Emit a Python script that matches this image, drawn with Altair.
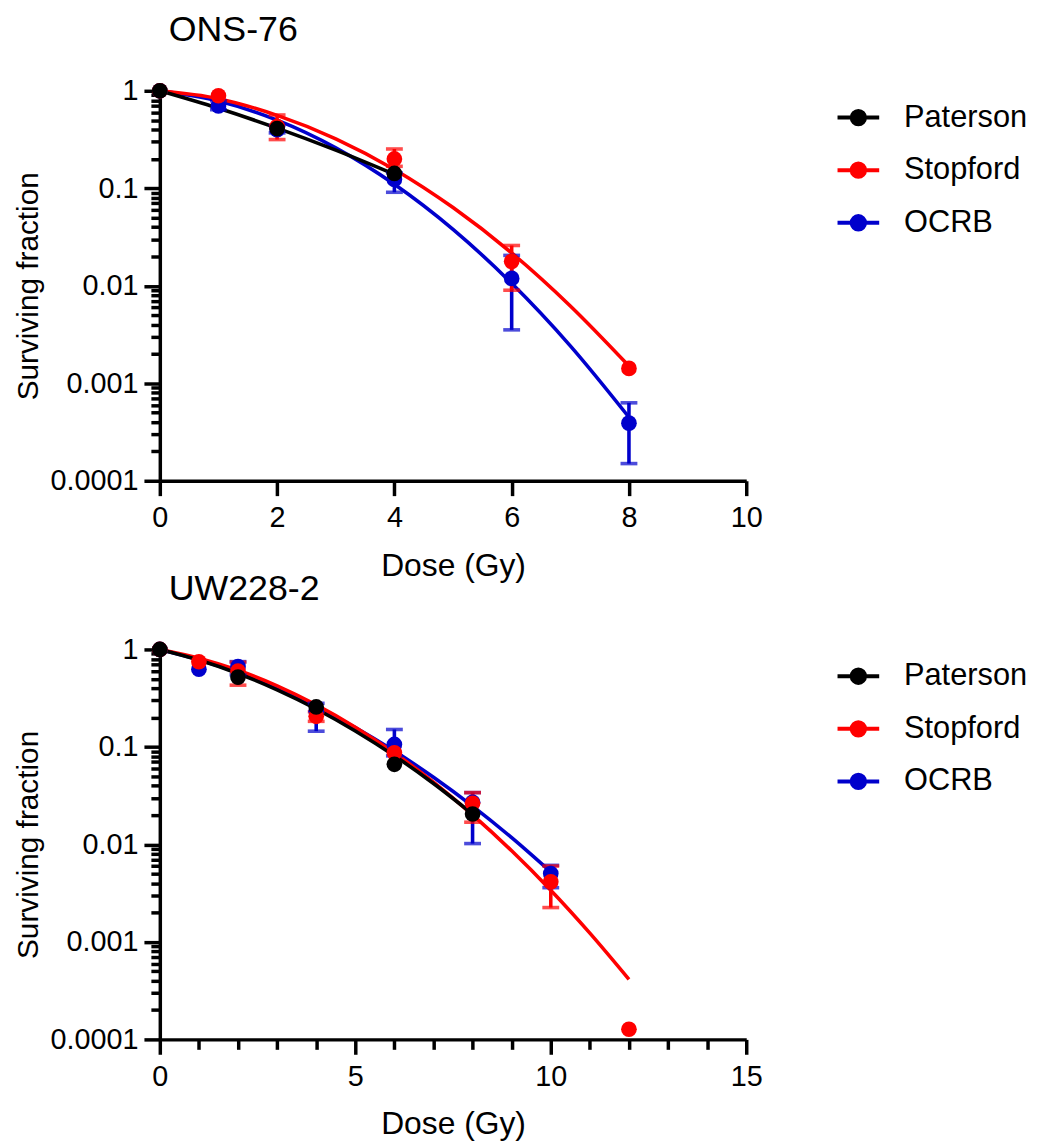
import altair as alt
import pandas as pd

SERIES = ["Paterson", "Stopford", "OCRB"]
COLORS = ["#000000", "#FF0000", "#0000CC"]
DRAW_RANK = {"OCRB": 0, "Stopford": 1, "Paterson": 2}

# ---------------- ONS-76: measured points ----------------
ons_pat_dose = [0, 2, 4]
ons_pat_sf = [1.0, 0.41, 0.142]
ons_pat_lo = [None, None, None]
ons_pat_hi = [None, None, None]

ons_sto_dose = [0, 1, 2, 4, 6, 8]
ons_sto_sf = [1.0, 0.89, 0.43, 0.20, 0.0178, 0.00142]
ons_sto_lo = [None, None, 0.316, 0.168, 0.009, None]
ons_sto_hi = [None, None, 0.565, 0.253, 0.0259, None]

ons_ocrb_dose = [0, 1, 2, 4, 6, 8]
ons_ocrb_sf = [1.0, 0.70, 0.40, 0.123, 0.0119, 0.00039]
ons_ocrb_lo = [None, 0.64, 0.37, 0.091, 0.00353, 0.00015]
ons_ocrb_hi = [None, 0.79, 0.44, 0.144, 0.0205, 0.00063]

# ONS-76: fitted curves
ons_fit_pat_dose = [0, 1, 2, 3, 4]
ons_fit_pat_sf = [1.0, 0.661, 0.414, 0.246, 0.139]
ons_fit_sto_dose = [0, 1, 2, 3, 4, 5, 6, 7, 8]
ons_fit_sto_sf = [1.0, 0.83, 0.56, 0.322, 0.156, 0.0634, 0.0217, 0.0062, 0.0015]
ons_fit_ocrb_dose = [0, 1, 2, 3, 4, 5, 6, 7, 8]
ons_fit_ocrb_sf = [1.0, 0.784, 0.50, 0.26, 0.11, 0.0379, 0.0106, 0.00242, 0.000448]

# ---------------- UW228-2: measured points ----------------
uw_pat_dose = [0, 2, 4, 6, 8]
uw_pat_sf = [1.0, 0.52, 0.257, 0.0663, 0.0205]
uw_pat_lo = [None, None, None, None, None]
uw_pat_hi = [None, None, None, None, None]

uw_sto_dose = [0, 1, 2, 4, 6, 8, 10, 12]
uw_sto_sf = [1.0, 0.748, 0.60, 0.206, 0.0872, 0.0264, 0.00413, 0.000127]
uw_sto_lo = [None, None, 0.43, 0.183, None, 0.0169, 0.00225, None]
uw_sto_hi = [None, None, 0.74, 0.23, None, 0.034, 0.006, None]

uw_ocrb_dose = [0, 1, 2, 4, 6, 8, 10]
uw_ocrb_sf = [1.0, 0.626, 0.666, 0.232, 0.106, 0.027, 0.00502]
uw_ocrb_lo = [None, None, 0.55, 0.145, 0.081, 0.0102, 0.0036]
uw_ocrb_hi = [None, None, 0.75, 0.28, 0.151, 0.034, 0.0061]

# UW228-2: fitted curves
uw_fit_pat_dose = [0, 1, 2, 3, 4, 5, 6, 7, 8]
uw_fit_pat_sf = [1.0, 0.778, 0.566, 0.385, 0.245, 0.1457, 0.0811, 0.0422, 0.0205]
uw_fit_sto_dose = [0, 1, 2, 3, 4, 5, 6, 7, 8, 9, 10, 11, 12]
uw_fit_sto_sf = [1.0, 0.814, 0.611, 0.423, 0.270, 0.1594, 0.0867, 0.0435, 0.0201,
                 0.0086, 0.00339, 0.00123, 0.000413]
uw_fit_ocrb_dose = [0, 1, 2, 3, 4, 5, 6, 7, 8, 9, 10]
uw_fit_ocrb_sf = [1.0, 0.784, 0.578, 0.40, 0.259, 0.1584, 0.0908, 0.0488, 0.0247,
                  0.01172, 0.00522]

# axis ticks
Y_MAJOR = [0.0001, 0.001, 0.01, 0.1, 1]
Y_MINOR_MULT = [2, 3, 4, 5, 6, 7, 8, 9]
ONS_X_TICKS = [0, 2, 4, 6, 8, 10]
UW_X_TICKS = list(range(0, 16))
UW_X_MAJOR_STEP = 5

FONT = "Liberation Sans"
LEGEND_PATH = ("M-1,0H1M-0.32,0A0.32,0.32,0,1,1,0.32,0"
               "A0.32,0.32,0,1,1,-0.32,0Z")


def points_df(groups):
    rows = []
    for name, dose, sf, lo, hi in groups:
        for d, s, l, h in zip(dose, sf, lo, hi):
            rows.append({"series": name, "dose": d, "sf": s, "lo": l, "hi": h,
                         "rank": DRAW_RANK[name]})
    df = pd.DataFrame(rows)
    return df.sort_values(["rank", "dose"]).reset_index(drop=True)


def fit_df(groups):
    rows = []
    for name, dose, sf in groups:
        for d, s in zip(dose, sf):
            rows.append({"series": name, "dose": d, "sf": s, "rank": DRAW_RANK[name]})
    df = pd.DataFrame(rows)
    return df.sort_values(["rank", "dose"]).reset_index(drop=True)


y_values = [m * e for e in Y_MAJOR[:-1] for m in [1] + Y_MINOR_MULT] + [1]
MAJOR_TEST = "abs(log(datum.value)/LN10 - round(log(datum.value)/LN10)) < 0.0001"


def panel(title, pts, fits, xmax, x_axis):
    x_scale = alt.Scale(domain=[0, xmax], nice=False, zero=False)
    y_scale = alt.Scale(type="log", domain=[0.0001, 1], nice=False)
    legend = alt.Legend(
        title=None, orient="none", legendX=681, legendY=4,
        symbolType=LEGEND_PATH, symbolSize=1764, symbolStrokeWidth=4,
        symbolOpacity=1, labelFont=FONT, labelFontSize=31, labelColor="black",
        labelOffset=23, rowPadding=15, padding=0,
    )
    color = alt.Color("series:N", scale=alt.Scale(domain=SERIES, range=COLORS),
                      legend=legend)
    y_axis = alt.Axis(
        values=y_values, tickCount=60, title="Surviving fraction", format=".4~f",
        tickSize={"condition": {"test": MAJOR_TEST, "value": 16}, "value": 9},
        labelExpr=f"({MAJOR_TEST}) ? datum.label : ''",
        labelPadding=6, titlePadding=7, labelOverlap=False, labelBound=False,
    )
    X = alt.X("dose:Q", scale=x_scale, axis=x_axis)
    Y = alt.Y("sf:Q", scale=y_scale, axis=y_axis)

    lines = alt.Chart(fits).mark_line(strokeWidth=3.6, interpolate="monotone").encode(
        x=X, y=Y, color=color)
    err = pts.dropna(subset=["lo", "hi"])
    rules = alt.Chart(err).mark_rule(strokeWidth=3.6).encode(
        x=alt.X("dose:Q"), y=alt.Y("lo:Q"), y2="hi:Q", color=color)
    cap_lo = alt.Chart(err).mark_tick(orient="horizontal", size=17, thickness=3.6).encode(
        x=alt.X("dose:Q"), y=alt.Y("lo:Q"), color=color)
    cap_hi = alt.Chart(err).mark_tick(orient="horizontal", size=17, thickness=3.6).encode(
        x=alt.X("dose:Q"), y=alt.Y("hi:Q"), color=color)
    dots = alt.Chart(pts).mark_point(filled=True, size=250, opacity=1, shape="circle").encode(
        x=X, y=Y, color=color)

    return alt.layer(lines, rules, cap_lo, cap_hi, dots).properties(
        width=591, height=393,
        title=alt.TitleParams(title, anchor="start", frame="group", fontSize=36,
                              font=FONT, fontWeight="normal", color="black",
                              dx=9, offset=28),
    )


ons_pts = points_df([
    ("Paterson", ons_pat_dose, ons_pat_sf, ons_pat_lo, ons_pat_hi),
    ("Stopford", ons_sto_dose, ons_sto_sf, ons_sto_lo, ons_sto_hi),
    ("OCRB", ons_ocrb_dose, ons_ocrb_sf, ons_ocrb_lo, ons_ocrb_hi),
])
ons_fit = fit_df([
    ("Paterson", ons_fit_pat_dose, ons_fit_pat_sf),
    ("Stopford", ons_fit_sto_dose, ons_fit_sto_sf),
    ("OCRB", ons_fit_ocrb_dose, ons_fit_ocrb_sf),
])
uw_pts = points_df([
    ("Paterson", uw_pat_dose, uw_pat_sf, uw_pat_lo, uw_pat_hi),
    ("Stopford", uw_sto_dose, uw_sto_sf, uw_sto_lo, uw_sto_hi),
    ("OCRB", uw_ocrb_dose, uw_ocrb_sf, uw_ocrb_lo, uw_ocrb_hi),
])
uw_fit = fit_df([
    ("Paterson", uw_fit_pat_dose, uw_fit_pat_sf),
    ("Stopford", uw_fit_sto_dose, uw_fit_sto_sf),
    ("OCRB", uw_fit_ocrb_dose, uw_fit_ocrb_sf),
])

top_x_axis = alt.Axis(values=ONS_X_TICKS, tickCount=20, title="Dose (Gy)", tickSize=15,
                      labelPadding=8, titlePadding=18, labelFlush=False,
                      labelOverlap=False, format="d")
uw_test = f"datum.value % {UW_X_MAJOR_STEP} == 0"
bottom_x_axis = alt.Axis(
    values=UW_X_TICKS, tickCount=40, title="Dose (Gy)", format="d",
    tickSize={"condition": {"test": uw_test, "value": 15}, "value": 10},
    labelExpr=f"({uw_test}) ? datum.label : ''",
    labelPadding=8, titlePadding=18, labelFlush=False, labelOverlap=False,
)

top = panel("ONS-76", ons_pts, ons_fit, 10, top_x_axis)
bottom = panel("UW228-2", uw_pts, uw_fit, 15, bottom_x_axis)

chart = alt.vconcat(top, bottom, spacing=170, bounds="flush").resolve_legend(
    color="independent").properties(
    padding={"left": 5, "top": 0, "right": 5, "bottom": 2},
).configure_view(stroke=None).configure_axis(
    domainColor="black", domainWidth=3.5, tickColor="black", tickWidth=3.5,
    labelFont=FONT, labelFontSize=29, labelColor="black",
    titleFont=FONT, titleColor="black", titleFontWeight="normal", grid=False,
).configure_axisX(titleFontSize=32).configure_axisY(titleFontSize=30)

chart.save("out.html", embed_options={"renderer": "svg", "actions": False})
